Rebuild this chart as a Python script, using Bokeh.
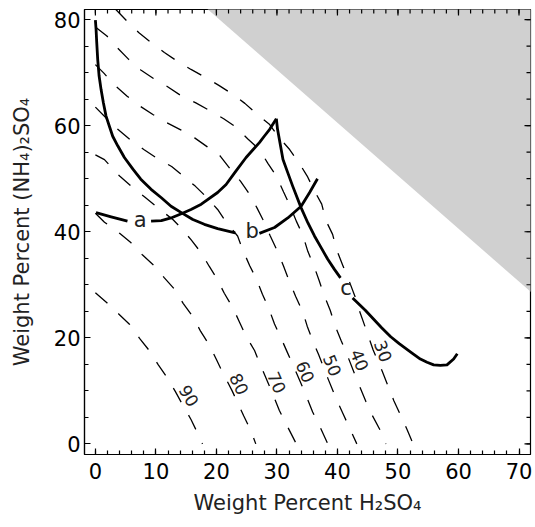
import math
from bokeh.plotting import figure
from bokeh.models import Range1d, FixedTicker
from bokeh.embed import file_html
from bokeh.resources import INLINE
from bokeh.core.properties import value

FONT = "DejaVu Sans"
NAN = float("nan")

# ---------------- data ----------------
x_major = [0, 10, 20, 30, 40, 50, 60, 70]
x_minor = list(range(0, 72, 2))
y_major = [0, 20, 40, 60, 80]
y_minor = list(range(0, 85, 5))

# region where H2SO4 + (NH4)2SO4 exceeds 100 %
gray_x = [18.5, 72.0, 72.0]
gray_y = [82.0, 28.6, 82.0]

# relative-humidity contours (dashed)
rh90_x = [0.0, 1.9, 3.85, 5.67, 7.3, 8.9, 10.4, 11.8, 13.2, 14.4, 15.8, 16.9, 17.7]
rh90_y = [28.5, 26.6, 24.5, 22.5, 19.9, 17.6, 14.9, 12.6, 9.9, 7.4, 4.6, 2.0, 0.0]

rh80_x = [0.0, 1.5, 4.0, 5.9, 7.8, 9.7, 11.4, 13.2, 14.5, 16.1, 17.4, 18.8, 20.0, 21.1, 22.6, 24.5, 25.7, 26.5]
rh80_y = [43.5, 41.8, 39.7, 37.9, 35.6, 33.6, 31.3, 29.0, 26.5, 24.0, 21.2, 18.7, 15.9, 13.3, 10.0, 5.3, 2.5, 0.0]

rh70_x = [0.0, 1.5, 4.0, 5.9, 8.1, 10.0, 12.8, 14.1, 15.8, 17.5, 18.8, 20.1, 21.3, 22.7, 23.8, 24.9, 26.3, 27.3, 28.8, 30.4, 31.5, 33.2]
rh70_y = [54.5, 53.6, 50.5, 48.6, 46.6, 44.8, 42.3, 40.8, 38.5, 36.0, 33.5, 31.1, 28.4, 25.7, 23.0, 20.3, 17.6, 14.8, 10.8, 6.3, 3.8, 0.0]

rh60_x = [0.0, 1.9, 3.7, 5.7, 8.0, 10.0, 12.6, 14.4, 16.5, 18.3, 20.2, 21.6, 23.5, 24.3, 25.5, 26.6, 27.6, 28.6, 29.6, 30.7, 31.7, 32.8, 34.4, 35.9, 37.0, 38.4]
rh60_y = [63.5, 61.3, 59.3, 57.4, 55.5, 54.0, 52.3, 50.6, 48.6, 46.6, 44.2, 41.8, 39.2, 36.7, 33.6, 31.1, 28.2, 25.7, 22.6, 19.9, 17.3, 14.5, 10.3, 6.0, 3.5, 0.0]

rh50_x = [0.0, 1.4, 3.1, 5.2, 7.2, 9.5, 11.7, 14.1, 16.4, 18.5, 20.6, 22.5, 24.0, 25.5, 26.7, 27.9, 28.9, 30.1, 31.1, 32.1, 33.1, 34.3, 35.0, 35.9, 36.9, 38.4, 39.9, 41.0, 42.2, 43.2]
rh50_y = [71.5, 69.9, 67.7, 65.6, 63.8, 62.1, 60.6, 59.2, 57.7, 56.0, 54.3, 51.5, 49.5, 47.0, 44.5, 41.8, 39.2, 36.3, 33.5, 30.5, 27.8, 24.8, 22.2, 19.5, 16.8, 12.4, 8.2, 5.5, 2.5, 0.0]

rh40_x = [0.0, 1.9, 3.7, 5.5, 7.5, 9.6, 12.0, 14.1, 16.6, 18.8, 21.2, 23.0, 25.2, 27.1, 28.5, 29.9, 31.1, 32.2, 33.2, 34.3, 35.1, 36.1, 37.0, 37.8, 38.8, 39.6, 40.6, 41.6, 43.1, 44.7, 45.7, 47.1, 48.0]
rh40_y = [78.6, 76.9, 74.6, 72.5, 70.5, 68.9, 67.3, 65.7, 64.3, 62.9, 61.3, 59.9, 57.5, 55.5, 52.9, 50.5, 47.5, 44.8, 42.0, 39.3, 36.3, 33.6, 30.7, 28.0, 25.2, 22.3, 19.5, 16.8, 12.4, 8.0, 5.5, 2.5, 0.0]

rh30_x = [3.3, 5.3, 7.2, 9.4, 11.4, 13.6, 15.8, 18.2, 20.4, 23.0, 24.7, 26.8, 28.8, 30.4, 32.1, 33.7, 35.0, 36.2, 37.4, 38.1, 39.2, 39.9, 40.9, 42.0, 43.0, 43.6, 44.5, 45.9, 47.4, 48.3, 49.3, 50.4, 51.5, 52.5]
rh30_y = [82.0, 79.6, 77.5, 75.5, 73.8, 72.1, 70.6, 69.1, 67.6, 65.7, 64.2, 62.1, 60.2, 57.7, 55.5, 52.9, 50.5, 47.7, 45.2, 42.1, 39.5, 36.5, 33.6, 30.5, 27.5, 25.2, 22.3, 17.7, 13.7, 11.1, 8.2, 5.5, 2.7, 0.0]

rh_levels = ["90", "80", "70", "60", "50", "40", "30"]
rh_label_x = [15.5, 23.8, 30.0, 34.7, 39.2, 43.7, 47.6]
rh_label_y = [9.1, 11.3, 11.6, 13.6, 14.8, 15.8, 17.5]

# thick composition curves (NaN = gap where the curve's letter sits)
curve_a_x = [0.1, 2.6, 5.3, NAN, 9.2, 10.9, 12.5, 14.2, 15.8, 17.5, 20.2, 21.6, 23.0,
             24.9, 26.0, 27.1, 27.9, 28.8, 29.9]
curve_a_y = [43.6, 42.8, 42.0, NAN, 42.0, 42.1, 42.6, 43.4, 44.2, 45.2, 47.4, 48.9, 51.1,
             54.0, 55.4, 56.8, 58.0, 59.3, 61.3]

curve_b_x = [0.0, 0.11, 0.22, 0.38, 0.61, 0.94, 1.32, 1.76, 2.31, 2.86, 3.69, 4.79, 6.2,
             7.5, 9.2, 10.9, 12.5, 14.2, 16.1, 18.0, 20.2, 23.1, NAN, 27.1, 29.6, 31.8,
             34.0, 35.4, 36.7]
curve_b_y = [79.9, 78.2, 75.7, 72.5, 69.4, 66.8, 64.3, 61.8, 59.9, 58.0, 56.2, 54.0, 51.8,
             49.9, 48.0, 46.4, 44.8, 43.6, 42.3, 41.4, 40.6, 39.8, NAN, 39.7, 40.8, 42.6,
             44.8, 47.4, 50.0]

curve_c_x = [29.9, 30.1, 30.5, 31.0, 31.8, 32.6, 34.0, 35.1, 36.2, 37.3, 38.4, 39.5, 40.5,
             NAN, 42.5, 44.6, 47.3, 48.8, 50.2, 52.1, 53.7, 54.8, 55.9, 57.0, 58.1, 59.2, 59.8]
curve_c_y = [61.3, 59.3, 56.8, 53.6, 51.1, 48.6, 44.5, 41.7, 39.2, 37.0, 34.8, 32.9, 31.3,
             NAN, 27.5, 25.2, 21.9, 20.2, 18.9, 17.3, 16.0, 15.4, 14.9, 14.8, 14.9, 16.0, 17.0]

curve_names = ["a", "b", "c"]
curve_label_x = [7.4, 25.9, 41.4]
curve_label_y = [42.2, 40.1, 29.4]

# ---------------- figure ----------------
X0, X1 = -1.8, 71.9
Y0, Y1 = -2.0, 81.9
W, H = 533, 526
ML, MR, MT, MB = 84, 3, 9, 72

p = figure(width=W, height=H, x_range=Range1d(X0, X1), y_range=Range1d(Y0, Y1),
           output_backend="svg", toolbar_location=None,
           min_border_left=ML, min_border_right=MR, min_border_top=MT, min_border_bottom=MB)
p.xgrid.visible = False
p.ygrid.visible = False
p.background_fill_color = "white"
p.border_fill_color = "white"
p.outline_line_color = "black"
p.outline_line_width = 1.2

# gray forbidden region
p.patch(gray_x, gray_y, fill_color="#d0d0d0", line_color=None)

# dashed contours
rh_xs = [rh90_x, rh80_x, rh70_x, rh60_x, rh50_x, rh40_x, rh30_x]
rh_ys = [rh90_y, rh80_y, rh70_y, rh60_y, rh50_y, rh40_y, rh30_y]
for xs, ys in zip(rh_xs, rh_ys):
    p.line(xs, ys, line_color="black", line_width=1.3, line_dash="16 15")

# contour labels, rotated along the local slope of each contour
fw = W - ML - MR
fh = H - MT - MB
sx = fw / (X1 - X0)
sy = fh / (Y1 - Y0)
angles = []
for xs, ys, ly in zip(rh_xs, rh_ys, rh_label_y):
    i = min(range(len(ys)), key=lambda k: abs(ys[k] - ly))
    j0, j1 = max(i - 2, 0), min(i + 2, len(xs) - 1)
    dx = (xs[j1] - xs[j0]) * sx
    dy = (ys[j1] - ys[j0]) * sy
    angles.append(math.atan2(dy, dx) if dx > 0 else math.atan2(-dy, -dx))

p.text(x=rh_label_x, y=rh_label_y, text=rh_levels, angle=angles,
       text_font=value(FONT), text_font_size="17px", text_color="#222222",
       text_align="center", text_baseline="middle")

# thick curves
for xs, ys in [(curve_a_x, curve_a_y), (curve_b_x, curve_b_y), (curve_c_x, curve_c_y)]:
    p.line(xs, ys, line_color="black", line_width=2.8, line_join="round", line_cap="butt")

p.text(x=curve_label_x, y=curve_label_y, text=curve_names,
       text_font=value(FONT), text_font_size="21px", text_color="#222222",
       text_align="center", text_baseline="middle")

# axes (ticks pointing inwards)
def style_axis(ax, ticks, minor):
    ax.ticker = FixedTicker(ticks=ticks, minor_ticks=minor)
    ax.major_tick_in = 6
    ax.major_tick_out = 0
    ax.minor_tick_in = 4
    ax.minor_tick_out = 0
    ax.axis_line_color = "black"
    ax.axis_line_width = 1.2
    ax.major_tick_line_color = "black"
    ax.minor_tick_line_color = "black"
    ax.major_tick_line_width = 1.2
    ax.minor_tick_line_width = 1.2
    ax.major_label_text_font = FONT
    ax.major_label_text_font_size = "21px"
    ax.major_label_text_color = "black"
    ax.axis_label_text_font = FONT
    ax.axis_label_text_font_size = "21px"
    ax.axis_label_text_font_style = "normal"
    ax.axis_label_text_color = "#222222"

style_axis(p.xaxis[0], x_major, x_minor)
style_axis(p.yaxis[0], y_major, y_minor)
p.xaxis[0].axis_label = "Weight Percent H\u2082SO\u2084"
p.yaxis[0].axis_label = "Weight Percent (NH\u2084)\u2082SO\u2084"
p.xaxis[0].major_label_standoff = 8
p.yaxis[0].major_label_standoff = 4
p.xaxis[0].axis_label_standoff = 9
p.yaxis[0].axis_label_standoff = 17

# mirrored inward ticks on the top and right edges (half of each mark is clipped by the frame)
p.scatter(x=x_major, y=[Y1] * len(x_major), marker="dash", angle=math.pi / 2, size=12,
          line_color="black", line_width=1.2)
p.scatter(x=x_minor, y=[Y1] * len(x_minor), marker="dash", angle=math.pi / 2, size=8,
          line_color="black", line_width=1.2)
p.scatter(x=[X1] * len(y_major), y=y_major, marker="dash", size=12,
          line_color="black", line_width=1.2)
p.scatter(x=[X1] * len(y_minor), y=y_minor, marker="dash", size=8,
          line_color="black", line_width=1.2)

open("out.html", "w").write(file_html(p, INLINE))
